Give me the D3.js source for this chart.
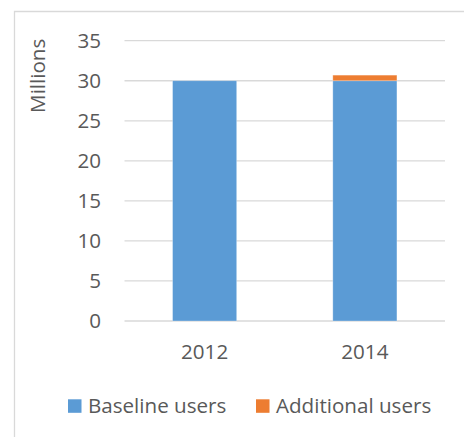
<!DOCTYPE html>
<html>
<head>
<meta charset="utf-8">
<script src="https://cdn.jsdelivr.net/npm/d3@7"></script>
<style>
  html, body { margin: 0; padding: 0; background: #fff; }
  text { font-family: "Open Sans", sans-serif; fill: #595959; }
</style>
</head>
<body>
<div id="chart"></div>
<script>
// chart data
const years = ["2012", "2014"]
const baseline = [30, 30]
const additional = [0, 0.7]
const yTicks = [0, 5, 10, 15, 20, 25, 30, 35]
const seriesNames = ["Baseline users", "Additional users"]
const colors = ["#5b9bd5", "#ed7d31"]

const width = 464
const height = 437
const fontSize = 20.6
const plot = { left: 124.5, right: 445, top: 40.7, bottom: 321 }

const svg = d3.select("#chart").append("svg")
  .attr("width", width)
  .attr("height", height)

// outer frame (cut off at right and bottom)
svg.append("path")
  .attr("d", `M14.5,${height + 2} V11.5 H${width + 2}`)
  .attr("fill", "none")
  .attr("stroke", "#d9d9d9")
  .attr("stroke-width", 1.3)

const x = d3.scaleBand()
  .domain(years)
  .range([plot.left, plot.right])

const y = d3.scaleLinear()
  .domain([0, 35])
  .range([plot.bottom, plot.top])

// gridlines
svg.append("g").classed("grid", true)
  .selectAll("line")
  .data(yTicks)
  .enter().append("line")
  .attr("x1", plot.left)
  .attr("x2", plot.right)
  .attr("y1", d => y(d))
  .attr("y2", d => y(d))
  .attr("stroke", "#d9d9d9")
  .attr("stroke-width", 1.3)

// y tick labels
svg.append("g").classed("ytick", true)
  .attr("text-anchor", "end")
  .selectAll("text")
  .data(yTicks)
  .enter().append("text")
  .attr("x", 101)
  .attr("y", d => y(d))
  .attr("dy", "0.36em")
  .attr("font-size", fontSize)
  .text(d => d)

// stacked bars
const rows = years.map((yr, i) => ({ year: yr, baseline: baseline[i], additional: additional[i] }))
const stack = d3.stack().keys(["baseline", "additional"])(rows)
const barW = x.bandwidth() * 0.4

svg.append("g").classed("bars", true)
  .selectAll("g")
  .data(stack)
  .enter().append("g")
  .attr("fill", (d, i) => colors[i])
  .selectAll("rect")
  .data(d => d.filter(p => p[1] - p[0] > 0))
  .enter().append("rect")
  .attr("x", d => x(d.data.year) + (x.bandwidth() - barW) / 2)
  .attr("width", barW)
  .attr("y", d => y(d[1]))
  .attr("height", d => y(d[0]) - y(d[1]))
  .attr("stroke", "#ffffff")
  .attr("stroke-opacity", 0.35)
  .attr("stroke-width", 0.8)

// x labels
svg.append("g").classed("xtick", true)
  .attr("text-anchor", "middle")
  .selectAll("text")
  .data(years)
  .enter().append("text")
  .attr("x", d => x(d) + x.bandwidth() / 2)
  .attr("y", 359)
  .attr("font-size", fontSize)
  .text(d => d)

// axis title
svg.append("text")
  .attr("transform", "translate(44.5,75.8) rotate(-90)")
  .attr("text-anchor", "middle")
  .attr("font-size", fontSize)
  .text("Millions")

// legend
const legendX = [68, 256]
const legend = svg.append("g").classed("legend", true)
  .selectAll("g")
  .data(seriesNames)
  .enter().append("g")
  .attr("transform", (d, i) => `translate(${legendX[i]},0)`)

legend.append("rect")
  .attr("x", 0)
  .attr("y", 399.3)
  .attr("width", 13.5)
  .attr("height", 13.5)
  .attr("fill", (d, i) => colors[i])

legend.append("text")
  .attr("x", 20)
  .attr("y", 412.5)
  .attr("font-size", fontSize)
  .text(d => d)
</script>
</body>
</html>
